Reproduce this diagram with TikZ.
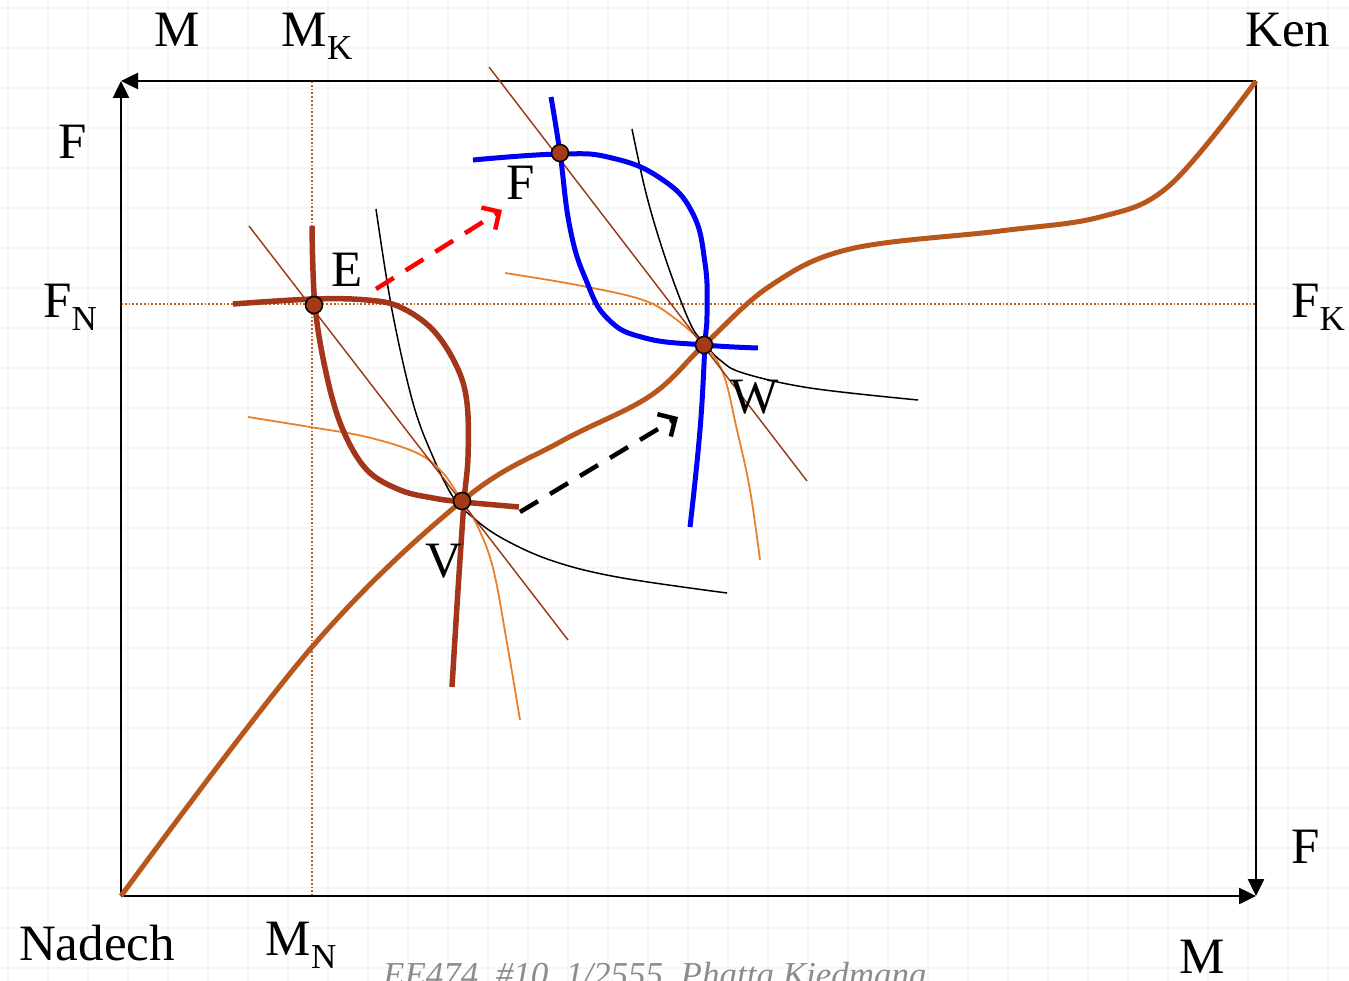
\documentclass[tikz,border=0pt]{standalone}
\usepackage{fontspec}
\setmainfont{Liberation Serif}
\usetikzlibrary{arrows.meta}
\definecolor{contract}{HTML}{B8561B}
\definecolor{ibrown}{HTML}{A3361A}
\definecolor{tline}{HTML}{9A3414}
\definecolor{iorange}{HTML}{E8822A}
\definecolor{dotc}{HTML}{C0601F}
\definecolor{gridc}{HTML}{F6F6F6}
\definecolor{wmc}{HTML}{8C8C8C}
\definecolor{ptfill}{HTML}{A63A16}
\definecolor{iblue}{HTML}{0000F5}
\newcommand{\bigtxt}{\fontsize{51}{51}\selectfont}
\newcommand{\subtxt}{\fontsize{35}{35}\selectfont}
\newcommand{\sub}[1]{\raisebox{-13pt}{\subtxt #1}}
\begin{document}
\begin{tikzpicture}[x=1pt,y=-1pt,
  lbl/.style={anchor=base,inner sep=0pt,font=\bigtxt},
  axis/.style={line width=2.5pt,-{Triangle[length=17pt,width=16pt]}},
  guide/.style={dotc,dotted,line width=1.8pt},
  thickind/.style={ibrown,line width=5.5pt},
  blueind/.style={iblue,line width=5pt},
  thinblack/.style={black,line width=1.5pt},
  thinorange/.style={iorange,line width=1.8pt},
  tangent/.style={tline,line width=1.4pt},
  ccurve/.style={contract,line width=5pt},
  dasharrow/.style={line width=4.5pt,dash pattern=on 21pt off 14pt,-{Straight Barb[length=13pt,width=26pt]}},
  pt/.style={circle,fill=ptfill,draw=black,line width=1.5pt,minimum size=17pt,inner sep=0pt}]
\fill[white] (0,0) rectangle (1349,981);
\useasboundingbox (0,0) rectangle (1349,981);
% faint grid
\foreach \g in {8,48,...,1348} \draw[gridc,line width=1.5pt] (\g,0) -- (\g,981);
\foreach \g in {8,48,...,968} \draw[gridc,line width=1.5pt] (0,\g) -- (1349,\g);
% corners
\coordinate (O) at (121,896);
\coordinate (TL) at (121,81);
\coordinate (TR) at (1256,81);
\coordinate (BR) at (1256,896);
\coordinate (MKt) at (312,81);
\coordinate (MKb) at (312,896);
\coordinate (FNl) at (121,304);
\coordinate (FKr) at (1256,304);
% guides
\draw[guide] (MKt) -- (MKb);
\draw[guide] (FNl) -- (FKr);
% axes
\draw[axis] (TR) -- (TL);
\draw[axis] (O) -- (TL);
\draw[axis] (TR) -- (BR);
\draw[axis] (O) -- (BR);
% thin curves
\draw[thinblack] plot[smooth,tension=0.6] coordinates {(376,209) (392,310) (413,403) (433,457) (453,497) (470,515) (500,537) (550,560) (617,577) (727,593)};
\draw[thinblack] plot[smooth,tension=0.6] coordinates {(632,129) (647,197) (667,263) (690,323) (704,343) (720,360) (743,373) (810,388) (918,400)};
\draw[thinorange] plot[smooth,tension=0.6] coordinates {(248,417) (310,427) (367,437) (417,453) (443,473) (463,503) (477,525) (493,568) (507,643) (520,720)};
\draw[thinorange] plot[smooth,tension=0.6] coordinates {(505,273) (577,285) (643,300) (677,320) (704,345) (723,373) (737,430) (750,490) (760,560)};
% tangent lines
\coordinate (L1a) at (249,226);
\coordinate (L1b) at (568,640);
\coordinate (L2a) at (489,67);
\coordinate (L2b) at (807,481);
\draw[tangent] (L1a) -- (L1b);
\draw[tangent] (L2a) -- (L2b);
% thick brown indifference curves
\draw[thickind] plot[smooth,tension=0.6] coordinates {(233,304) (314,299) (367,300) (400,307) (433,330) (457,367) (467,403) (468,457) (464,502) (458,590) (452,687)};
\draw[thickind] plot[smooth,tension=0.6] coordinates {(312,226) (315,306) (327,377) (343,430) (367,470) (400,490) (433,498) (463,502) (519,507)};
% blue indifference curves
\draw[blueind] plot[smooth,tension=0.75] coordinates {(473,160) (560,154) (612,158) (660,178) (692,212) (705,263) (707,313) (705,345) (700,430) (690,527)};
\draw[blueind] plot[smooth,tension=0.75] coordinates {(551,97) (560,153) (570,228) (586,280) (608,319) (645,338) (704,345) (758,348)};
% contract curve
\draw[ccurve] plot[smooth,tension=0.6] coordinates {(121,896) (312,647) (462,501) (560,442) (650,396) (704,345) (770,286) (850,249) (1000,231) (1100,217) (1170,185) (1256,81)};
% dashed arrows
\coordinate (RA1) at (376,289);
\coordinate (RA2) at (502,210);
\coordinate (BA1) at (520,512);
\coordinate (BA2) at (678,417);
\draw[dasharrow,red] (RA1) -- (RA2);
\draw[dasharrow,black] (BA1) -- (BA2);
% points
\node[pt] (E) at (314,305) {};
\node[pt] (V) at (462,501) {};
\node[pt] (W) at (704,345) {};
\node[pt] (Fp) at (560,153) {};
% labels
\node[lbl] (lM) at (177,47) {M};
\node[lbl] (lMK) at (317,47) {M\sub{K}};
\node[lbl] (lKen) at (1288,47) {Ken};
\node[lbl] (lF1) at (73,159) {F};
\node[lbl] (lFN) at (70,318) {F\sub{N}};
\node[lbl] (lFK) at (1318,318) {F\sub{K}};
\node[lbl] (lF2) at (1306,863) {F};
\node[lbl] (lNad) at (97,960) {Nadech};
\node[lbl] (lMN) at (301,955) {M\sub{N}};
\node[lbl] (lM2) at (1202,973) {M};
\node[lbl] (lE) at (347,287) {E};
\node[lbl] (lF3) at (521,200) {F};
\node[lbl] (lW) at (755,413) {W};
\node[lbl] (lV) at (444,577) {V};
% watermark
\begin{scope}
\clip (0,0) rectangle (1349,981);
\node[anchor=base west,inner sep=0pt,text=wmc,font=\fontsize{35}{35}\selectfont\itshape] (wm) at (383,986) {EE474\ \ \#10\ \ 1/2555\ \ Phatta Kiedmana};
\end{scope}
\end{tikzpicture}
\end{document}
